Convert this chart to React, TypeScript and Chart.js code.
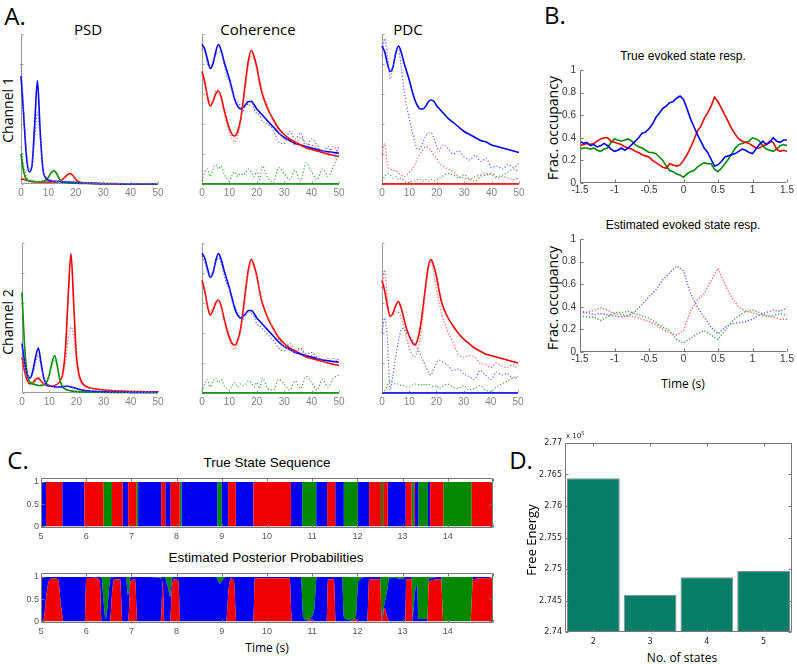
import React, { useEffect, useRef } from 'react';
import { Chart, registerables } from 'chart.js';
Chart.register(...registerables);

// ---------------- Panel A data (frequency, Hz) ----------------
const FREQ = [0,1,2,3,4,5,6,7,8,9,10,11,12,13,14,15,16,17,18,19,20,21,22,24,26,28,30,32,34,36,38,40,42,44,46,48,50];
const A_X_TICKS = [0, 10, 20, 30, 40, 50];
const A_Y_TICKS = [0, 0.2, 0.4, 0.6, 0.8, 1];

const PSD1_BLUE = [0.72,0.45,0.18,0.08,0.12,0.4,0.69,0.35,0.1,0.04,0.025,0.02,0.018,0.016,0.015,0.014,0.013,0.013,0.012,0.011,0.01,0.008,0.007,0.005,0.004,0.003,0.002,0.002,0.002,0.001,0.001,0.001,0.001,0.001,0.001,0.001,0.001];
const PSD1_BLUE_EST = [0.8,0.5,0.22,0.1,0.13,0.3,0.48,0.3,0.1,0.05,0.03,0.022,0.02,0.018,0.017,0.016,0.016,0.015,0.014,0.012,0.01,0.009,0.008,0.006,0.005,0.004,0.003,0.003,0.002,0.002,0.002,0.002,0.001,0.001,0.001,0.001,0.001];
const PSD1_GREEN = [0.2,0.08,0.03,0.02,0.015,0.015,0.015,0.015,0.018,0.025,0.045,0.075,0.09,0.07,0.035,0.015,0.01,0.008,0.006,0.005,0.005,0.004,0.004,0.003,0.003,0.002,0.002,0.002,0.002,0.002,0.002,0.002,0.002,0.002,0.002,0.002,0.002];
const PSD1_GREEN_EST = [0.25,0.12,0.05,0.03,0.02,0.018,0.017,0.018,0.02,0.03,0.05,0.07,0.08,0.065,0.04,0.02,0.012,0.009,0.007,0.006,0.005,0.005,0.004,0.004,0.003,0.003,0.003,0.002,0.002,0.002,0.002,0.002,0.002,0.002,0.002,0.002,0.002];
const PSD1_RED = [0.035,0.03,0.025,0.02,0.018,0.016,0.015,0.013,0.012,0.012,0.012,0.013,0.014,0.016,0.02,0.028,0.045,0.062,0.07,0.055,0.03,0.015,0.01,0.007,0.005,0.004,0.003,0.003,0.003,0.002,0.002,0.002,0.002,0.002,0.002,0.002,0.002];
const PSD1_RED_EST = [0.04,0.035,0.028,0.022,0.02,0.018,0.016,0.014,0.013,0.012,0.013,0.014,0.015,0.018,0.022,0.03,0.042,0.055,0.06,0.05,0.032,0.018,0.012,0.008,0.006,0.005,0.004,0.003,0.003,0.003,0.002,0.002,0.002,0.002,0.002,0.002,0.002];

const PSD2_RED = [0.24,0.14,0.08,0.06,0.07,0.09,0.1,0.08,0.06,0.05,0.045,0.045,0.05,0.06,0.08,0.13,0.3,0.65,0.93,0.6,0.25,0.12,0.07,0.04,0.03,0.025,0.02,0.018,0.015,0.013,0.012,0.01,0.01,0.009,0.008,0.008,0.007];
const PSD2_RED_EST = [0.26,0.15,0.09,0.07,0.07,0.08,0.09,0.08,0.06,0.05,0.05,0.05,0.05,0.06,0.08,0.12,0.2,0.36,0.44,0.38,0.2,0.1,0.06,0.04,0.03,0.025,0.02,0.018,0.016,0.014,0.012,0.011,0.01,0.009,0.009,0.008,0.008];
const PSD2_BLUE = [0.33,0.2,0.12,0.1,0.15,0.24,0.3,0.2,0.1,0.06,0.05,0.045,0.04,0.04,0.04,0.042,0.045,0.045,0.04,0.035,0.03,0.025,0.02,0.015,0.012,0.01,0.008,0.007,0.006,0.005,0.005,0.004,0.004,0.004,0.004,0.004,0.004];
const PSD2_BLUE_EST = [0.3,0.19,0.12,0.1,0.13,0.2,0.25,0.18,0.1,0.06,0.05,0.045,0.042,0.04,0.04,0.04,0.042,0.043,0.04,0.035,0.03,0.025,0.02,0.015,0.012,0.01,0.008,0.007,0.006,0.005,0.005,0.004,0.004,0.004,0.004,0.004,0.004];
const PSD2_GREEN = [0.67,0.3,0.12,0.07,0.06,0.055,0.05,0.05,0.055,0.07,0.12,0.2,0.25,0.18,0.08,0.04,0.025,0.018,0.014,0.012,0.01,0.009,0.008,0.006,0.005,0.005,0.004,0.004,0.003,0.003,0.003,0.003,0.003,0.003,0.003,0.003,0.003];
const PSD2_GREEN_EST = [0.6,0.28,0.13,0.08,0.07,0.06,0.055,0.055,0.06,0.08,0.12,0.18,0.22,0.17,0.09,0.05,0.03,0.02,0.015,0.012,0.01,0.009,0.008,0.006,0.005,0.005,0.004,0.004,0.003,0.003,0.003,0.003,0.003,0.003,0.003,0.003,0.003];

const COH_BLUE = [0.93,0.9,0.83,0.77,0.8,0.88,0.93,0.89,0.82,0.76,0.7,0.63,0.56,0.52,0.5,0.51,0.53,0.55,0.55,0.53,0.5,0.48,0.46,0.42,0.38,0.34,0.31,0.29,0.27,0.26,0.25,0.24,0.23,0.22,0.215,0.21,0.205];
const COH_RED = [0.75,0.68,0.58,0.52,0.55,0.6,0.62,0.58,0.5,0.43,0.37,0.33,0.32,0.35,0.42,0.55,0.7,0.83,0.89,0.85,0.78,0.68,0.6,0.5,0.43,0.37,0.33,0.3,0.28,0.26,0.24,0.23,0.22,0.21,0.2,0.19,0.185];
const COH_GREEN = [0,0,0,0,0,0,0,0,0,0,0,0,0,0,0,0,0,0,0,0,0,0,0,0,0,0,0,0,0,0,0,0,0,0,0,0,0];
const COH1_BLUE_EST = [0.9,0.88,0.8,0.78,0.82,0.86,0.88,0.87,0.8,0.72,0.68,0.62,0.57,0.55,0.52,0.48,0.55,0.52,0.56,0.5,0.47,0.46,0.42,0.4,0.36,0.28,0.27,0.35,0.3,0.34,0.24,0.3,0.26,0.2,0.25,0.19,0.25];
const COH1_RED_EST = [0.72,0.66,0.6,0.55,0.56,0.62,0.63,0.56,0.48,0.4,0.34,0.3,0.28,0.32,0.4,0.52,0.66,0.8,0.85,0.82,0.76,0.7,0.62,0.52,0.42,0.35,0.3,0.3,0.26,0.31,0.27,0.26,0.24,0.22,0.19,0.25,0.21];
const COH1_GREEN_EST = [0.02,0.08,0.1,0.05,0.1,0.13,0.1,0.12,0.07,0.04,0.02,0.06,0.08,0.05,0.07,0.06,0.08,0.1,0.08,0.05,0.09,0.03,0.12,0.04,0.01,0.11,0.07,0.03,0.09,0.02,0.14,0.08,0.03,0.1,0.05,0.12,0.2];
const COH2_BLUE_EST = [0.91,0.87,0.81,0.77,0.81,0.87,0.9,0.86,0.79,0.73,0.69,0.61,0.58,0.54,0.5,0.49,0.53,0.54,0.53,0.51,0.46,0.45,0.43,0.39,0.35,0.3,0.28,0.33,0.28,0.3,0.26,0.27,0.24,0.22,0.23,0.2,0.23];
const COH2_RED_EST = [0.73,0.67,0.59,0.54,0.57,0.61,0.62,0.57,0.49,0.41,0.35,0.31,0.29,0.33,0.41,0.53,0.67,0.81,0.86,0.83,0.77,0.69,0.61,0.51,0.43,0.36,0.31,0.29,0.27,0.29,0.25,0.25,0.23,0.21,0.2,0.23,0.2];
const COH2_GREEN_EST = [0.01,0.06,0.09,0.04,0.08,0.1,0.07,0.09,0.05,0.03,0.02,0.05,0.07,0.04,0.06,0.05,0.06,0.08,0.07,0.04,0.07,0.03,0.1,0.03,0.02,0.09,0.06,0.02,0.08,0.03,0.11,0.07,0.02,0.09,0.04,0.1,0.12];

const PDC1_BLUE = [0.92,0.88,0.8,0.75,0.78,0.87,0.92,0.88,0.81,0.75,0.69,0.62,0.56,0.52,0.5,0.5,0.52,0.55,0.56,0.55,0.52,0.5,0.48,0.44,0.41,0.38,0.35,0.33,0.31,0.29,0.28,0.26,0.25,0.24,0.23,0.22,0.21];
const PDC1_BLUE_EST = [0.85,0.97,0.85,0.7,0.78,0.88,0.9,0.78,0.63,0.52,0.43,0.35,0.28,0.23,0.24,0.28,0.32,0.34,0.34,0.3,0.25,0.22,0.26,0.24,0.2,0.22,0.18,0.16,0.19,0.15,0.17,0.11,0.12,0.1,0.13,0.11,0.14];
const PDC1_RED = [0,0,0,0,0,0,0,0,0,0,0,0,0,0,0,0,0,0,0,0,0,0,0,0,0,0,0,0,0,0,0,0,0,0,0,0,0];
const PDC1_RED_EST = [0.2,0.27,0.12,0.1,0.09,0.09,0.07,0.06,0.05,0.06,0.08,0.1,0.13,0.17,0.2,0.23,0.25,0.24,0.22,0.19,0.17,0.14,0.12,0.1,0.08,0.05,0.04,0.03,0.05,0.06,0.07,0.06,0.04,0.05,0.04,0.03,0.04];
const PDC1_GREEN_EST = [0.02,0.05,0.07,0.06,0.04,0.05,0.03,0.04,0.02,0.01,0.01,0.02,0.02,0.03,0.03,0.02,0.03,0.02,0.03,0.02,0.03,0.04,0.05,0.07,0.06,0.04,0.06,0.03,0.02,0.05,0.06,0.07,0.05,0.06,0.08,0.1,0.08];

const PDC2_RED = [0.75,0.68,0.58,0.51,0.53,0.58,0.61,0.57,0.5,0.43,0.38,0.34,0.32,0.35,0.43,0.56,0.71,0.84,0.89,0.85,0.78,0.68,0.6,0.51,0.45,0.4,0.36,0.33,0.3,0.28,0.26,0.25,0.24,0.23,0.22,0.21,0.2];
const PDC2_RED_EST = [0.7,0.82,0.62,0.52,0.52,0.54,0.54,0.5,0.44,0.37,0.3,0.26,0.24,0.28,0.36,0.5,0.68,0.82,0.88,0.8,0.69,0.6,0.52,0.42,0.34,0.26,0.24,0.25,0.24,0.2,0.19,0.17,0.2,0.18,0.17,0.19,0.16];
const PDC2_BLUE = [0,0,0,0,0,0,0,0,0,0,0,0,0,0,0,0,0,0,0,0,0,0,0,0,0,0,0,0,0,0,0,0,0,0,0,0,0];
const PDC2_BLUE_EST = [0.4,0.5,0.35,0.02,0.12,0.24,0.34,0.42,0.43,0.4,0.38,0.36,0.33,0.3,0.26,0.22,0.18,0.14,0.12,0.16,0.2,0.22,0.21,0.19,0.15,0.16,0.13,0.11,0.09,0.15,0.12,0.09,0.14,0.12,0.13,0.1,0.1];
const PDC2_GREEN_EST = [0,0.02,0.05,0.08,0.07,0.06,0.06,0.05,0.05,0.04,0.04,0.05,0.06,0.06,0.05,0.06,0.05,0.06,0.05,0.04,0.05,0.03,0.04,0.06,0.04,0.03,0.05,0.02,0.03,0.05,0.02,0.01,0.04,0.06,0.08,0.1,0.11];

// ---------------- Panel B data (time, s) ----------------
const B_TIME_TRUE = [-1.5,-1.45,-1.4,-1.35,-1.3,-1.25,-1.2,-1.15,-1.1,-1.05,-1,-0.95,-0.9,-0.85,-0.8,-0.75,-0.7,-0.65,-0.6,-0.55,-0.5,-0.45,-0.4,-0.35,-0.3,-0.25,-0.2,-0.15,-0.1,-0.05,0,0.05,0.1,0.15,0.2,0.25,0.3,0.35,0.4,0.45,0.5,0.55,0.6,0.65,0.7,0.75,0.8,0.85,0.9,0.95,1,1.05,1.1,1.15,1.2,1.25,1.3,1.35,1.4,1.45,1.5];
const B_TRUE_BLUE = [0.37,0.35,0.36,0.33,0.34,0.32,0.33,0.35,0.33,0.3,0.28,0.29,0.31,0.29,0.31,0.34,0.37,0.4,0.44,0.45,0.48,0.52,0.58,0.62,0.66,0.68,0.71,0.72,0.75,0.77,0.74,0.66,0.57,0.5,0.43,0.37,0.31,0.27,0.21,0.15,0.16,0.19,0.23,0.24,0.25,0.26,0.28,0.3,0.29,0.27,0.26,0.3,0.34,0.37,0.34,0.36,0.4,0.37,0.36,0.38,0.38];
const B_TRUE_RED = [0.33,0.34,0.35,0.34,0.35,0.37,0.39,0.4,0.4,0.37,0.36,0.35,0.34,0.32,0.31,0.3,0.28,0.27,0.25,0.24,0.23,0.2,0.18,0.16,0.14,0.13,0.17,0.16,0.15,0.16,0.2,0.25,0.31,0.38,0.46,0.5,0.57,0.62,0.68,0.76,0.72,0.66,0.6,0.54,0.48,0.43,0.39,0.37,0.36,0.35,0.33,0.31,0.31,0.33,0.34,0.37,0.36,0.3,0.28,0.29,0.28];
const B_TRUE_GREEN = [0.3,0.31,0.31,0.3,0.31,0.29,0.28,0.3,0.31,0.36,0.39,0.38,0.37,0.38,0.39,0.37,0.34,0.32,0.31,0.29,0.27,0.27,0.26,0.23,0.2,0.15,0.11,0.1,0.08,0.07,0.05,0.08,0.1,0.11,0.14,0.16,0.18,0.17,0.17,0.12,0.1,0.13,0.17,0.21,0.26,0.31,0.34,0.35,0.36,0.37,0.4,0.39,0.37,0.33,0.3,0.29,0.28,0.3,0.33,0.34,0.33];

const B_TIME_EST = [-1.5,-1.4,-1.3,-1.2,-1.1,-1,-0.9,-0.8,-0.7,-0.6,-0.5,-0.4,-0.3,-0.2,-0.1,0,0.1,0.2,0.3,0.4,0.5,0.6,0.7,0.8,0.9,1,1.1,1.2,1.3,1.4,1.5];
const B_EST_BLUE = [0.36,0.35,0.33,0.34,0.33,0.32,0.31,0.32,0.36,0.42,0.49,0.55,0.64,0.7,0.76,0.72,0.52,0.4,0.31,0.22,0.16,0.22,0.25,0.26,0.27,0.29,0.33,0.35,0.37,0.36,0.39];
const B_EST_RED = [0.34,0.35,0.37,0.39,0.37,0.34,0.33,0.32,0.31,0.29,0.27,0.24,0.2,0.17,0.15,0.19,0.36,0.46,0.52,0.63,0.74,0.6,0.48,0.4,0.36,0.35,0.33,0.32,0.31,0.29,0.29];
const B_EST_GREEN = [0.32,0.31,0.31,0.28,0.31,0.35,0.35,0.36,0.34,0.32,0.3,0.26,0.22,0.19,0.11,0.08,0.12,0.16,0.19,0.15,0.11,0.19,0.27,0.32,0.36,0.37,0.35,0.32,0.32,0.34,0.32];
const B_X_TICKS = [-1.5, -1, -0.5, 0, 0.5, 1, 1.5];
const B_Y_TICKS = [0, 0.2, 0.4, 0.6, 0.8, 1];

// ---------------- Panel C data ----------------
// True state sequence: segment boundaries (s) and state of each segment (R/B/G)
const SEQ_BOUNDS = [5.0,5.11,5.47,5.96,6.38,6.57,6.81,6.93,7.11,7.15,7.66,7.75,7.87,8.07,8.11,8.9,9.0,9.14,9.31,9.7,10.53,10.78,11.09,11.33,11.51,11.7,12.01,12.26,12.52,12.57,12.67,13.07,13.2,13.25,13.27,13.35,13.56,13.61,13.9,14.53,15.0];
const SEQ_STATES = ['B','R','B','R','G','R','B','R','G','B','R','B','R','G','B','G','B','R','B','R','B','G','B','R','B','G','B','R','G','R','B','R','G','R','B','G','B','R','G','R'];
// Estimated posterior probabilities at key times
const POST_T = [5.0,5.06,5.12,5.18,5.3,5.38,5.45,5.5,5.97,6.0,6.2,6.3,6.34,6.38,6.43,6.48,6.53,6.57,6.62,6.75,6.8,6.88,6.92,6.95,6.98,7.08,7.13,7.62,7.66,7.69,7.73,7.8,7.86,7.9,7.96,8.04,8.08,8.88,8.95,9.03,9.1,9.15,9.2,9.27,9.32,9.7,9.73,10.5,10.55,10.75,10.8,10.9,10.95,11.05,11.1,11.32,11.35,11.48,11.52,11.66,11.7,11.85,11.97,12.02,12.22,12.26,12.5,12.54,12.6,12.66,12.7,12.8,13.0,13.06,13.08,13.2,13.22,13.28,13.32,13.35,13.55,13.58,13.85,13.9,14.5,14.56,15.0];
const POST_RED = [0,0.05,0.6,0.92,0.97,0.93,0.3,0,0,0.95,0.98,0.9,0,0,0,0,0,0.6,0.95,0.95,0,0,0,0.3,0.9,0.95,0,0,0.05,0.9,0,0,0,0.8,0.95,0.9,0,0,0,0,0,0.7,0.97,0.9,0,0,0.97,0.97,0,0,0,0,0.05,0,0,0,0.95,0.95,0,0,0,0,0.05,0,0,0.95,0.95,0,0.3,0.1,0,0,0,0,0.95,0.95,0,0,0,0,0,0.9,0.95,0,0,0.95,0.97];
const POST_GREEN = [0,0,0,0,0,0,0,0,0,0,0,0,0.02,0.5,0.95,0.6,0.05,0,0,0,0,0,0.4,0.3,0,0,0,0.02,0.04,0,0,0.2,0.45,0.05,0,0,0,0,0.15,0.05,0,0,0,0,0,0,0,0,0,0,0.9,0.98,0.93,0.7,0,0,0,0,0,0,0.9,0.98,0.9,0.1,0,0,0,0.9,0.6,0.3,0.05,0.02,0.05,0,0,0,0.9,0.3,0.2,0.95,0.95,0.05,0,1,1,0,0];
const C_X_TICKS = [5,6,7,8,9,10,11,12,13,14,15];
const C_Y_TICKS = [0, 0.5, 1];

// ---------------- Panel D data ----------------
const N_STATES = ['2', '3', '4', '5'];
const FREE_ENERGY = [276440, 274590, 274870, 274970];
const D_Y_TICKS = [274000, 274500, 275000, 275500, 276000, 276500, 277000];

// ---------------- colours ----------------
const BLUE = '#0000f0';
const RED = '#f00000';
const GREEN = '#008800';
const BLUE_L = '#5a5aff';
const RED_L = '#ff5a5a';
const GREEN_L = '#3aa53a';

const pts = (xs: number[], ys: number[]) => xs.map((x, i) => ({ x, y: ys[i] }));

function drawFrame(chart: any, o: any) {
  const { ctx, chartArea: ca, scales } = chart;
  const L = Math.round(ca.left) + 0.5;
  const R = Math.round(ca.right) - 0.5;
  const T = Math.round(ca.top) + 0.5;
  const B = Math.round(ca.bottom) - 0.5;
  ctx.save();
  ctx.strokeStyle = o.color;
  ctx.lineWidth = 1;
  ctx.beginPath();
  ctx.moveTo(L, T);
  ctx.lineTo(L, B);
  ctx.lineTo(R, B);
  if (o.box) {
    ctx.lineTo(R, T);
    ctx.lineTo(L, T);
  }
  ctx.stroke();
  const tl = o.tick;
  ctx.beginPath();
  for (const t of scales.x.ticks) {
    const p = Math.round(scales.x.getPixelForValue(t.value)) + 0.5;
    ctx.moveTo(p, B);
    ctx.lineTo(p, B - tl);
    if (o.box) {
      ctx.moveTo(p, T);
      ctx.lineTo(p, T + tl);
    }
  }
  for (const t of scales.y.ticks) {
    const p = Math.round(scales.y.getPixelForValue(t.value)) + 0.5;
    ctx.moveTo(L, p);
    ctx.lineTo(L + tl, p);
    if (o.box) {
      ctx.moveTo(R, p);
      ctx.lineTo(R - tl, p);
    }
  }
  ctx.stroke();
  ctx.restore();
}

const framePlugin = {
  id: 'frame',
  beforeDatasetsDraw(chart: any, _a: any, o: any) {
    if (o && o.on && o.under) drawFrame(chart, o);
  },
  afterDatasetsDraw(chart: any, _a: any, o: any) {
    if (o && o.on && !o.under) drawFrame(chart, o);
  },
};
Chart.register(framePlugin);

type AxisP = {
  L: number; T: number; R: number; B: number;
  xMin?: number; xMax?: number; xTicks?: number[]; xLabels?: boolean; xPad?: number; fmtX?: (v: number) => string; xType?: string;
  yMin: number; yMax: number; yTicks: number[]; yLabels?: boolean; yPad?: number; fmtY?: (v: number) => string;
  font: any; tickColor: string; axisColor: string; box?: boolean; tick?: number; under?: boolean;
};

function makeOptions(p: AxisP): any {
  return {
    responsive: false,
    animation: false,
    events: [],
    layout: { padding: { left: 0, top: p.T, right: p.R, bottom: 0 } },
    plugins: {
      legend: { display: false },
      tooltip: { enabled: false },
      frame: { on: true, box: !!p.box, color: p.axisColor, tick: p.tick ?? 3, under: !!p.under },
    },
    scales: {
      x: {
        type: p.xType || 'linear',
        min: p.xMin,
        max: p.xMax,
        offset: p.xType === 'category',
        grid: { display: false, drawTicks: false },
        border: { display: false },
        afterBuildTicks: p.xTicks ? (s: any) => { s.ticks = p.xTicks!.map((v) => ({ value: v })); } : undefined,
        afterFit: (s: any) => { s.height = p.B; },
        ticks: {
          display: p.xLabels !== false,
          padding: p.xPad ?? 3,
          color: p.tickColor,
          font: p.font,
          maxRotation: 0,
          autoSkip: false,
          ...(p.xType === 'category' ? {} : { callback: (v: number) => (p.fmtX ? p.fmtX(v) : String(v)) }),
        },
      },
      y: {
        type: 'linear',
        min: p.yMin,
        max: p.yMax,
        grid: { display: false, drawTicks: false },
        border: { display: false },
        afterBuildTicks: (s: any) => { s.ticks = p.yTicks.map((v) => ({ value: v })); },
        afterFit: (s: any) => { s.width = p.L; },
        ticks: {
          display: p.yLabels !== false,
          padding: p.yPad ?? 3,
          color: p.tickColor,
          font: p.font,
          autoSkip: false,
          callback: (v: number) => (p.fmtY ? p.fmtY(v) : String(v)),
        },
      },
    },
  };
}

function ChartBox(props: { rect: number[]; m: number[]; build: () => any }) {
  const ref = useRef<HTMLCanvasElement>(null);
  const [x0, y0, x1, y1] = props.rect;
  const [L, T, R, B] = props.m;
  const w = x1 - x0 + L + R;
  const h = y1 - y0 + T + B;
  useEffect(() => {
    const c = new Chart(ref.current!, props.build());
    return () => c.destroy();
  }, []);
  return (
    <canvas
      ref={ref}
      width={w}
      height={h}
      style={{ position: 'absolute', left: x0 - L, top: y0 - T, width: w, height: h }}
    />
  );
}

function Txt(props: { x: number; y: number; s: number; t: string; f?: string; rot?: boolean; c?: string; w?: number }) {
  return (
    <div
      style={{
        position: 'absolute',
        left: props.x,
        top: props.y,
        transform: `translate(-50%, -50%)${props.rot ? ' rotate(-90deg)' : ''}`,
        fontFamily: props.f || "'Open Sans', sans-serif",
        fontSize: props.s,
        fontWeight: props.w || 400,
        color: props.c || '#000',
        whiteSpace: 'nowrap',
        lineHeight: 1,
      }}
    >
      {props.t}
    </div>
  );
}

// ---------- Panel A builder ----------
type Ser = { ys: number[]; color: string; dotted?: boolean };
const A_M = [20, 6, 10, 18];
function buildA(series: Ser[]) {
  return () => ({
    type: 'line',
    data: {
      datasets: series.map((s) => ({
        data: pts(FREQ, s.ys),
        borderColor: s.color,
        borderWidth: s.dotted ? 1.2 : 1.6,
        borderDash: s.dotted ? [1.2, 2] : [],
        pointRadius: 0,
        cubicInterpolationMode: 'monotone',
        fill: false,
        clip: 3,
      })),
    },
    options: makeOptions({
      L: A_M[0], T: A_M[1], R: A_M[2], B: A_M[3],
      xMin: 0, xMax: 50, xTicks: A_X_TICKS, xPad: 3,
      yMin: 0, yMax: 1, yTicks: A_Y_TICKS, yLabels: false,
      font: { family: "'Liberation Sans', Arial, sans-serif", size: 10 },
      tickColor: '#808080', axisColor: '#9a9a9a', tick: 2, under: true,
    }),
  });
}

// ---------- Panel B builder ----------
const B_M = [34, 8, 10, 16];
function buildB(xs: number[], ys: number[][], dotted: boolean) {
  const cols = dotted ? [BLUE_L, RED_L, GREEN_L] : [BLUE, RED, GREEN];
  return () => ({
    type: 'line',
    data: {
      datasets: ys.map((y, i) => ({
        data: pts(xs, y),
        borderColor: cols[i],
        borderWidth: dotted ? 1.4 : 1.6,
        borderDash: dotted ? [1.2, 1.8] : [],
        pointRadius: 0,
        tension: 0,
        fill: false,
      })),
    },
    options: makeOptions({
      L: B_M[0], T: B_M[1], R: B_M[2], B: B_M[3],
      xMin: -1.5, xMax: 1.5, xTicks: B_X_TICKS, xPad: 1,
      yMin: 0, yMax: 1, yTicks: B_Y_TICKS, yPad: 4,
      font: { family: "'Liberation Sans Narrow', 'Liberation Sans', Arial, sans-serif", size: 10 },
      tickColor: '#333', axisColor: '#777', tick: 3,
    }),
  });
}

// ---------- Panel C builders ----------
const C_M = [20, 6, 6, 14];
const cOpts = () =>
  makeOptions({
    L: C_M[0], T: C_M[1], R: C_M[2], B: C_M[3],
    xMin: 5, xMax: 15, xTicks: C_X_TICKS, xPad: 3, fmtX: (v) => (v === 15 ? '' : String(v)),
    yMin: -0.04, yMax: 1.08, yTicks: C_Y_TICKS, yPad: 2,
    font: { family: "'Liberation Sans', Arial, sans-serif", size: 9 },
    tickColor: '#555', axisColor: '#777', box: true, tick: 3,
  });

function buildTrueSeq() {
  // each segment holds the state of its left boundary (step held until the next boundary)
  const mk = (st: string, color: string) => ({
    data: SEQ_BOUNDS.map((t, i) => ({ x: t, y: SEQ_STATES[Math.min(i, SEQ_STATES.length - 1)] === st ? 1 : 0 })),
    stepped: 'before',
    borderWidth: 0,
    borderColor: 'rgba(0,0,0,0)',
    backgroundColor: color,
    pointRadius: 0,
    fill: 'origin',
  });
  return () => ({
    type: 'line',
    data: { datasets: [mk('R', RED), mk('B', BLUE), mk('G', GREEN)] },
    options: cOpts(),
  });
}

function buildPosterior() {
  const base = { borderWidth: 0, borderColor: 'rgba(0,0,0,0)', pointRadius: 0, cubicInterpolationMode: 'monotone' };
  return () => ({
    type: 'line',
    data: {
      datasets: [
        { ...base, data: pts(POST_T, POST_RED), backgroundColor: RED, fill: 'origin' },
        { ...base, data: pts(POST_T, POST_GREEN.map((g) => 1 - g)), backgroundColor: BLUE, fill: '-1' },
        { ...base, data: pts(POST_T, POST_GREEN.map(() => 1)), backgroundColor: GREEN, fill: '-1' },
      ],
    },
    options: cOpts(),
  });
}

// ---------- Panel D builder ----------
const D_M = [36, 8, 5, 16];
function buildD() {
  return () => ({
    type: 'bar',
    data: {
      labels: N_STATES,
      datasets: [
        {
          data: FREE_ENERGY,
          base: D_Y_TICKS[0],
          backgroundColor: '#047e68',
          borderColor: '#8a8a8a',
          borderWidth: 1,
          barPercentage: 0.93,
          categoryPercentage: 1,
        },
      ],
    },
    options: makeOptions({
      L: D_M[0], T: D_M[1], R: D_M[2], B: D_M[3],
      xType: 'category', xPad: 5,
      yMin: D_Y_TICKS[0], yMax: D_Y_TICKS[D_Y_TICKS.length - 1], yTicks: D_Y_TICKS, yPad: 3,
      fmtY: (v) => String(Number((v / 1e5).toFixed(3))),
      font: { family: "'DejaVu Sans', sans-serif", size: 8 },
      tickColor: '#222', axisColor: '#777', box: true, tick: 3,
    }),
  });
}

export default function App() {
  const lab = "'Open Sans', sans-serif";
  const hel = "'Liberation Sans', Arial, sans-serif";
  return (
    <div style={{ position: 'absolute', left: 0, top: 0, width: 797, height: 664, background: '#fff', overflow: 'hidden' }}>
      {/* Panel A */}
      <Txt x={15} y={16} s={24} t="A." f={lab} />
      <Txt x={88} y={29} s={15} t="PSD" f={lab} />
      <Txt x={258} y={29} s={15} t="Coherence" f={lab} />
      <Txt x={408} y={29} s={15} t="PDC" f={lab} />
      <Txt x={8} y={110} s={14} t="Channel 1" f={lab} rot />
      <Txt x={8} y={322} s={14} t="Channel 2" f={lab} rot />

      <ChartBox rect={[21, 34, 158, 184]} m={A_M} build={buildA([
        { ys: PSD1_BLUE_EST, color: BLUE_L, dotted: true },
        { ys: PSD1_GREEN_EST, color: GREEN_L, dotted: true },
        { ys: PSD1_RED_EST, color: RED_L, dotted: true },
        { ys: PSD1_BLUE, color: BLUE },
        { ys: PSD1_GREEN, color: GREEN },
        { ys: PSD1_RED, color: RED },
      ])} />
      <ChartBox rect={[202, 34, 339, 184]} m={A_M} build={buildA([
        { ys: COH1_GREEN_EST, color: GREEN_L, dotted: true },
        { ys: COH1_BLUE_EST, color: BLUE_L, dotted: true },
        { ys: COH1_RED_EST, color: RED_L, dotted: true },
        { ys: COH_GREEN, color: GREEN },
        { ys: COH_RED, color: RED },
        { ys: COH_BLUE, color: BLUE },
      ])} />
      <ChartBox rect={[382, 34, 519, 184]} m={A_M} build={buildA([
        { ys: PDC1_GREEN_EST, color: GREEN_L, dotted: true },
        { ys: PDC1_RED_EST, color: RED_L, dotted: true },
        { ys: PDC1_BLUE_EST, color: BLUE_L, dotted: true },
        { ys: PDC1_BLUE, color: BLUE },
        { ys: PDC1_RED, color: RED },
      ])} />
      <ChartBox rect={[22, 243, 158, 393]} m={A_M} build={buildA([
        { ys: PSD2_RED_EST, color: RED_L, dotted: true },
        { ys: PSD2_BLUE_EST, color: BLUE_L, dotted: true },
        { ys: PSD2_GREEN_EST, color: GREEN_L, dotted: true },
        { ys: PSD2_BLUE, color: BLUE },
        { ys: PSD2_GREEN, color: GREEN },
        { ys: PSD2_RED, color: RED },
      ])} />
      <ChartBox rect={[202, 243, 339, 393]} m={A_M} build={buildA([
        { ys: COH2_GREEN_EST, color: GREEN_L, dotted: true },
        { ys: COH2_BLUE_EST, color: BLUE_L, dotted: true },
        { ys: COH2_RED_EST, color: RED_L, dotted: true },
        { ys: COH_GREEN, color: GREEN },
        { ys: COH_BLUE, color: BLUE },
        { ys: COH_RED, color: RED },
      ])} />
      <ChartBox rect={[382, 243, 518, 393]} m={A_M} build={buildA([
        { ys: PDC2_GREEN_EST, color: GREEN_L, dotted: true },
        { ys: PDC2_BLUE_EST, color: BLUE_L, dotted: true },
        { ys: PDC2_RED_EST, color: RED_L, dotted: true },
        { ys: PDC2_RED, color: RED },
        { ys: PDC2_BLUE, color: BLUE },
      ])} />

      {/* Panel B */}
      <Txt x={555} y={15} s={24} t="B." f={lab} />
      <Txt x={683} y={56} s={12} t="True evoked state resp." f={hel} />
      <Txt x={553} y={128} s={14} t="Frac. occupancy" f={lab} rot />
      <ChartBox rect={[580, 68, 787, 183]} m={B_M} build={buildB(B_TIME_TRUE, [B_TRUE_BLUE, B_TRUE_RED, B_TRUE_GREEN], false)} />
      <Txt x={683} y={225} s={12} t="Estimated evoked state resp." f={hel} />
      <Txt x={553} y={298} s={14} t="Frac. occupancy" f={lab} rot />
      <ChartBox rect={[580, 237, 787, 352]} m={B_M} build={buildB(B_TIME_EST, [B_EST_BLUE, B_EST_RED, B_EST_GREEN], true)} />
      <Txt x={683} y={384} s={12} t="Time (s)" f={lab} />

      {/* Panel C */}
      <Txt x={18} y={460} s={24} t="C." f={lab} />
      <Txt x={267} y={463} s={13.5} t="True State Sequence" f={hel} />
      <ChartBox rect={[41, 477, 493, 528]} m={C_M} build={buildTrueSeq()} />
      <Txt x={266} y={558} s={13.5} t="Estimated Posterior Probabilities" f={hel} />
      <ChartBox rect={[41, 572, 493, 623]} m={C_M} build={buildPosterior()} />
      <Txt x={267} y={648} s={12} t="Time (s)" f={lab} />

      {/* Panel D */}
      <Txt x={521} y={460} s={24} t="D." f={lab} />
      <ChartBox rect={[565, 443, 792, 632]} m={D_M} build={buildD()} />
      <div style={{ position: 'absolute', left: 566, top: 430, fontFamily: "'DejaVu Sans', sans-serif", fontSize: 7, color: '#222', whiteSpace: 'nowrap' }}>
        x 10<sup style={{ fontSize: 5 }}>5</sup>
      </div>
      <Txt x={531} y={540} s={13} t="Free Energy" f={lab} rot />
      <Txt x={682} y={658} s={12} t="No. of states" f={lab} />
    </div>
  );
}
